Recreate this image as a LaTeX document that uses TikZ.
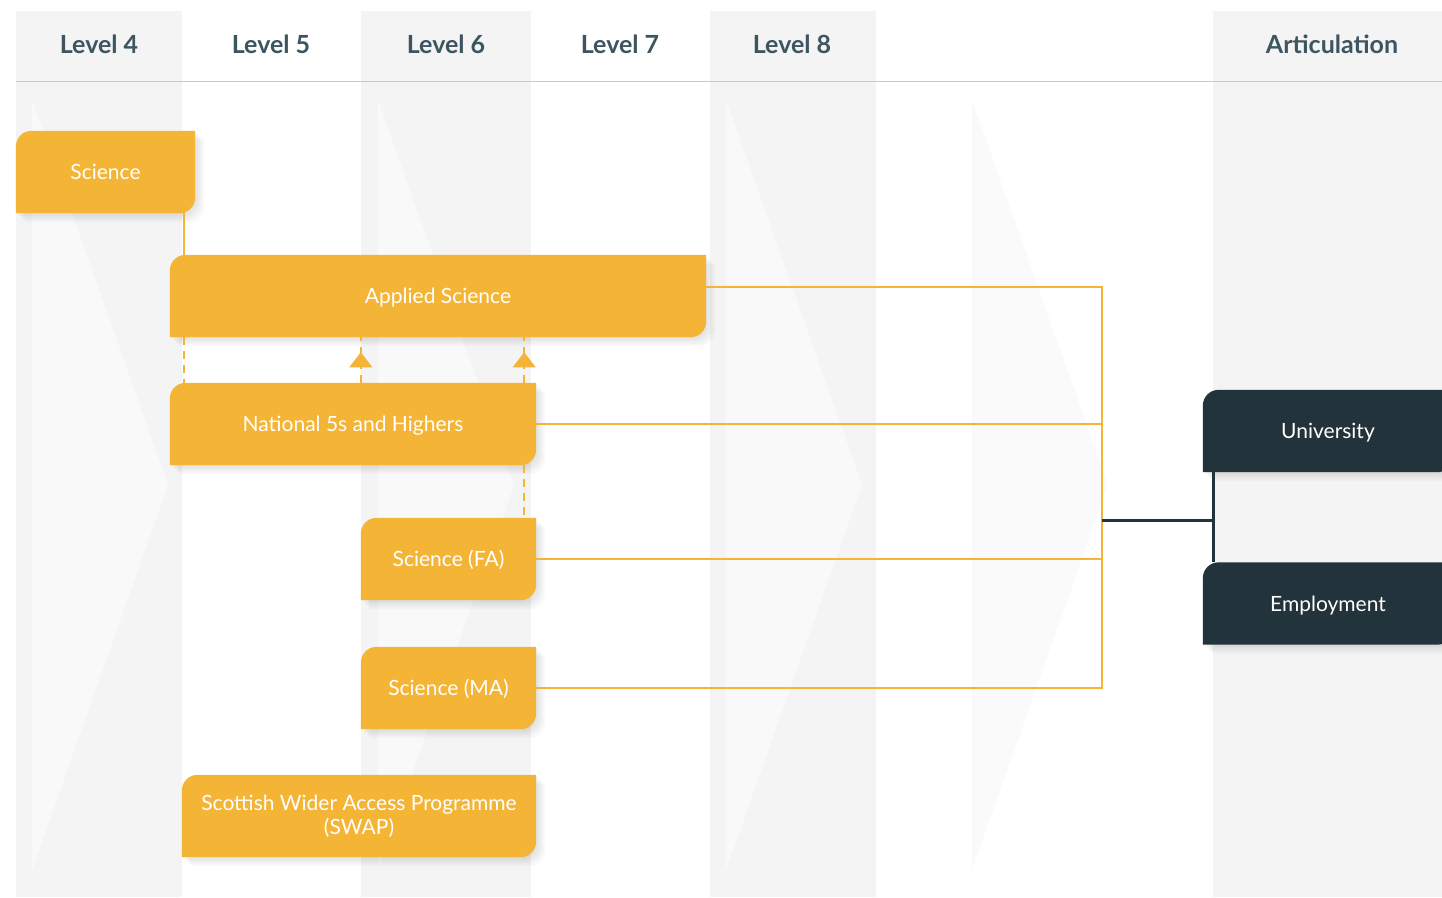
\documentclass[tikz,border=0pt]{standalone}
\usepackage{fontspec}
\setmainfont{Lato}
\usetikzlibrary{arrows.meta,backgrounds,decorations.markings}

\definecolor{gold}{HTML}{F4B436}
\definecolor{slate}{HTML}{22333B}
\definecolor{headtext}{HTML}{3D5561}
\definecolor{stripe}{HTML}{F4F4F4}
\definecolor{rulecol}{HTML}{D9C7A5}

% box outline: top left and bottom right corners rounded
\newcommand{\tabpath}[1]{(#1.north east) -- ([xshift=16pt]#1.north west)
  .. controls ([xshift=7pt]#1.north west) and ([yshift=-7pt]#1.north west) .. ([yshift=-16pt]#1.north west)
  -- (#1.south west) -- ([xshift=-16pt]#1.south east)
  .. controls ([xshift=-7pt]#1.south east) and ([yshift=7pt]#1.south east) .. ([yshift=16pt]#1.south east) -- cycle}

\tikzset{
  tab/.style={rectangle, inner sep=0pt, minimum height=82pt, text=white,
    font=\fontsize{21}{24}\selectfont, align=center, text height=15pt, text depth=0pt},
  head/.style={text=headtext, font=\bfseries\fontsize{25}{30}\selectfont},
  link/.style={gold, line width=2.5pt},
  darklink/.style={slate, line width=3pt},
  dashlink/.style={gold, line width=2.5pt, dash pattern=on 8pt off 6pt},
  uparrow/.style={postaction={decorate, decoration={markings,
    mark=at position #1 with {\arrow{Triangle[width=23pt,length=15pt,line width=0pt]}}}}}
}

\begin{document}
\begin{tikzpicture}[x=1pt,y=-1pt]
\useasboundingbox (0,0) rectangle (1442,897);

% columns and faint chevrons
\begin{scope}[on background layer]
  \fill[white] (0,0) rectangle (1442,897);
  \foreach \a/\b in {16/182, 361/531, 710/876, 1213/1442}
    \fill[stripe] (\a,11) rectangle (\b,897);
  \foreach \x/\c/\o in {32/white/0.5, 378/white/0.5, 726/white/0.5, 972/black/0.018}
    \fill[\c, opacity=\o] (\x,100) -- (\x+136,485) -- (\x,870) -- cycle;
\end{scope}

% header
\draw[rulecol, line width=1pt] (16,81) -- (1442,81);
\node[head] (l4) at (99,44) {Level 4};
\node[head] (l5) at (271,44) {Level 5};
\node[head] (l6) at (446,44) {Level 6};
\node[head] (l7) at (620,44) {Level 7};
\node[head] (l8) at (792,44) {Level 8};
\node[head] (art) at (1332,44) {Articulation};

% qualification boxes
\node[tab, minimum width=179pt] (sci) at (105.5,172) {Science};
\node[tab, minimum width=536pt] (appl) at (438,296) {Applied Science};
\node[tab, minimum width=366pt] (nat) at (353,424) {National 5s and Highers};
\node[tab, minimum width=175pt] (fa) at (448.5,559) {Science (FA)};
\node[tab, minimum width=175pt] (ma) at (448.5,688) {Science (MA)};
\node[tab, minimum width=354pt, text height={}, text depth={}] (swap) at (359,816) {Scottish Wider Access Programme\\(SWAP)};
\node[tab, minimum width=250pt] (uni) at (1328,431) {University};
\node[tab, minimum width=250pt] (emp) at (1328,603.5) {Employment};

\begin{scope}[on background layer]
  \foreach \n/\c in {sci/gold, appl/gold, nat/gold, fa/gold, ma/gold, swap/gold, uni/slate, emp/slate} {
    \foreach \s in {1,3,5,7,9}
      \fill[black, opacity=0.022, transform canvas={shift={(\s pt,-\s pt)}}] \tabpath{\n};
    \fill[\c] \tabpath{\n};
  }
\end{scope}

% progression lines
\draw[link] ([xshift=-11pt,yshift=8pt]sci.south east) -- ([xshift=-11pt]sci.south east |- appl.north);
\draw[dashlink] ([xshift=14pt]appl.south west) -- ([xshift=14pt]nat.north west);
\draw[dashlink, uparrow=0.67] (fa.west |- nat.north) -- (fa.west |- appl.south);
\draw[dashlink, uparrow=0.67] ([xshift=-12pt]nat.north east) -- ([xshift=-12pt]nat.north east |- appl.south);
\draw[dashlink] ([xshift=-12pt]nat.south east) -- ([xshift=-12pt]nat.south east |- fa.north);

% articulation lines
\coordinate (trunk) at (1102,520);
\coordinate (fork) at (1213,520);
\draw[link] ([yshift=9pt]appl.east) -- ([yshift=9pt]appl.east -| trunk) -- (ma.east -| trunk) -- (ma.east);
\draw[link] (nat.east) -- (nat.east -| trunk);
\draw[link] (fa.east) -- (fa.east -| trunk);
\draw[darklink] (trunk) -- (fork);
\draw[darklink] (fork |- uni.south) -- (fork |- emp.north);

\end{tikzpicture}
\end{document}
